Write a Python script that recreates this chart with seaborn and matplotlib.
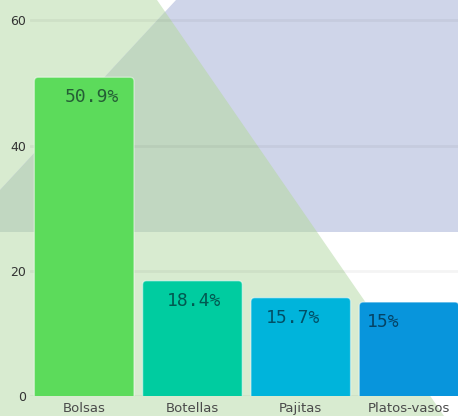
import matplotlib
matplotlib.use("Agg")
import matplotlib.pyplot as plt
import seaborn as sns
import pandas as pd
from matplotlib.patches import Polygon, FancyBboxPatch

# Share of single-use plastic items
categories = ["Bolsas", "Botellas", "Pajitas", "Platos-vasos"]
shares = [50.9, 18.4, 15.7, 15.0]
value_labels = ["50.9%", "18.4%", "15.7%", "15%"]
bar_colors = ["#5cdb5b", "#00cca0", "#00b4db", "#0895dc"]
y_ticks = [0, 20, 40, 60]

sns.set_style("white")
plt.rcParams["font.family"] = ["DejaVu Sans"]

W, H = 458, 416
fig = plt.figure(figsize=(W / 100, H / 100), dpi=100)
fig.patch.set_facecolor("white")

# Decorative backdrop drawn in pixel space
bg = fig.add_axes([0, 0, 1, 1], zorder=0)
bg.set_xlim(0, W)
bg.set_ylim(H, 0)
bg.axis("off")


def edge_right(y):
    return 157 + 0.69 * y


def edge_left(y):
    return 176 - 0.926 * y


band = 232
apex_y = (176 - 157) / (0.69 + 0.926)
apex = (edge_right(apex_y), apex_y)
left_hit = 176 / 0.926

green_area = [(0, 0), (edge_right(0), 0), (edge_right(H), H), (0, H)]
lav_area = [(edge_left(0), 0), (W, 0), (W, band), (0, band), (0, left_hit)]
overlap = [apex, (edge_right(band), band), (0, band), (0, left_hit)]

bg.add_patch(Polygon(green_area, closed=True, fc="#d8ebd0", ec="none"))
bg.add_patch(Polygon(lav_area, closed=True, fc="#cfd5e9", ec="none"))
bg.add_patch(Polygon(overlap, closed=True, fc="#c1d7c1", ec="none"))

# Main chart
ax = fig.add_axes([30 / W, 20 / H, 428 / W, 396 / H], zorder=1)
ax.patch.set_alpha(0)

df = pd.DataFrame({"categoria": categories, "porcentaje": shares})
sns.barplot(data=df, x="categoria", y="porcentaje", hue="categoria",
            palette=bar_colors, legend=False, width=0.92, saturation=1, ax=ax)

ax.set_xlim(-0.5, 3.452)
ax.set_ylim(0, 63.24)

# Replace plain bars with top-rounded ones
px_x = 428 / (3.452 + 0.5)
px_y = 396 / 63.24
r = 4 / px_x
aspect = (4 / px_y) / r
for p in list(ax.patches):
    x, w, h = p.get_x(), p.get_width(), p.get_height()
    fc = p.get_facecolor()
    p.remove()
    ax.add_patch(FancyBboxPatch((x, -3), w, h + 3,
                                boxstyle=f"round,pad=0,rounding_size={r}",
                                mutation_aspect=aspect, fc=fc,
                                ec=(1, 1, 1, 0.45), lw=1, zorder=2))

# Value labels inside bars
nudges = [0.07, 0.015, -0.07, -0.235]
for i, (val, lab) in enumerate(zip(shares, value_labels)):
    ax.annotate(lab, xy=(i + nudges[i], val), xytext=(0, -20),
                textcoords="offset pixels", ha="center", va="center",
                fontsize=13, family="DejaVu Sans Mono",
                color="#03121f", alpha=0.62, zorder=3)

ax.set_yticks(y_ticks)
ax.yaxis.grid(True, color="black", alpha=0.045, linewidth=2)
ax.xaxis.grid(False)
ax.set_axisbelow(True)
ax.set_xlabel("")
ax.set_ylabel("")
sns.despine(ax=ax, left=True, bottom=True)
ax.tick_params(axis="y", length=0, pad=3, labelsize=9, labelcolor="#333333")
ax.tick_params(axis="x", length=0, pad=4, labelsize=9.5, labelcolor="#4a4a4a")

ax.set_xticks([0.5, 1.5, 2.5], minor=True)
ax.tick_params(axis="x", which="minor", length=4, width=1.5, direction="out")
for t, c in zip(ax.xaxis.get_minor_ticks(), ["#f2b0b8", "#f4c89a", "#f4c089"]):
    t.tick1line.set_color(c)

fig.savefig("out.png", dpi=100)
